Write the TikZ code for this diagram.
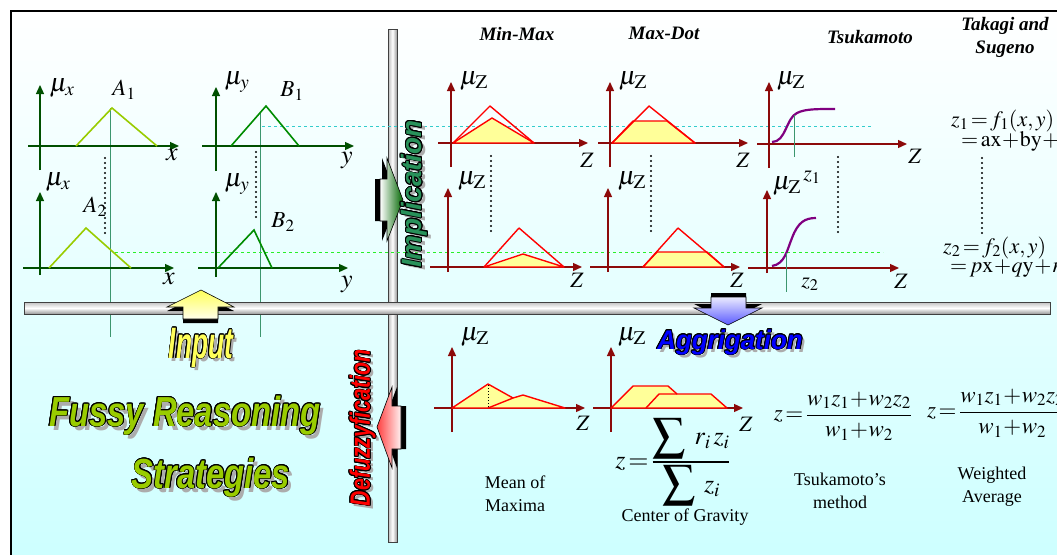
\documentclass[tikz,border=0pt]{standalone}
\usepackage{amsmath}
\usepackage{mathptmx}
\usepackage{fontspec}
\setmainfont{Liberation Serif}
\newfontfamily\artfont{Liberation Sans}
\usepackage{contour}
\contourlength{0.9pt}
\usetikzlibrary{arrows.meta}
\definecolor{ingreen}{RGB}{0,80,0}
\definecolor{agreen}{RGB}{153,204,0}
\definecolor{bgreen}{RGB}{0,140,0}
\definecolor{projgreen}{RGB}{60,150,110}
\definecolor{dashcyan}{RGB}{51,204,204}
\definecolor{dashgreen}{RGB}{40,240,40}
\definecolor{axred}{RGB}{140,10,10}
\definecolor{fuzzred}{RGB}{255,0,0}
\definecolor{fuzzfill}{RGB}{255,255,153}
\definecolor{sigpurple}{RGB}{128,0,128}
\definecolor{impgreen}{RGB}{40,145,90}
\definecolor{artgreen}{RGB}{153,204,0}
\definecolor{artyellow}{RGB}{255,255,90}
\definecolor{artblue}{RGB}{0,0,255}
\definecolor{artred}{RGB}{255,0,0}
\newcommand{\artword}[2]{\textcolor{#1}{\contour{black}{#2}}}
\newcommand{\bigsum}{\mathop{\vcenter{\hbox{\scalebox{1.8}{$\sum$}}}}}
\tikzstyle{inaxis} = [draw=ingreen, line width=1.3pt, -{Triangle[length=9pt,width=8pt]}]
\tikzstyle{zaxis} = [draw=axred, line width=1.3pt, -{Triangle[length=9pt,width=8pt]}]
\tikzstyle{aset} = [draw=agreen, line width=1.6pt]
\tikzstyle{bset} = [draw=bgreen, line width=1.6pt]
\tikzstyle{fuzzshape} = [draw=fuzzred, fill=fuzzfill, line width=1.4pt, line join=round]
\tikzstyle{fuzzline} = [draw=fuzzred, line width=1.4pt, line join=round]
\tikzstyle{sigmoid} = [draw=sigpurple, line width=2.2pt]
\tikzstyle{projline} = [draw=projgreen, line width=0.9pt]
\tikzstyle{dotcol} = [line width=2.2pt, line cap=round, dash pattern=on 0pt off 5pt]
\tikzstyle{bar} = [draw=black!75, line width=0.6pt]
\tikzstyle{lbl} = [inner sep=0pt, font=\fontsize{26}{28}\selectfont]
\tikzstyle{setlbl} = [inner sep=0pt, font=\fontsize{23}{25}\selectfont]
\tikzstyle{zlbl} = [inner sep=0pt, font=\fontsize{22}{24}\selectfont]
\tikzstyle{title} = [inner sep=0pt, font=\fontsize{19}{23}\selectfont\bfseries\itshape, align=center]
\tikzstyle{caption} = [inner sep=0pt, font=\fontsize{18}{23}\selectfont, align=center]
\tikzstyle{formula} = [inner sep=0pt, font=\fontsize{22}{24}\selectfont]
\tikzset{
  wordart/.style={inner sep=0pt, font=\artfont\bfseries\itshape\fontsize{#1}{#1}\selectfont},
  artshadow/.style={wordart=#1, text=gray!65}
}
\begin{document}
\begin{tikzpicture}[x=1pt, y=-1pt]
\useasboundingbox (0,0) rectangle (1057,554);
\clip (0,0) rectangle (1057,554);
% background and frame
\fill[white] (0,0) rectangle (1057,554);
\shade[top color=white, bottom color=cyan!20] (11,11) rectangle (1070,570);
\draw[line width=2pt] (11,570) -- (11,11) -- (1070,11);

% projections from the input sets
\draw[projline] (110,108) -- (110,337);
\draw[projline] (260,113) -- (260,337);

% the two bars
\shade[bar, left color=gray!55, right color=gray!80, middle color=white] (388,29) rectangle (397,542);
\shade[bar, top color=gray!50, bottom color=gray!80, middle color=white] (24,302) rectangle (1050,314);

% rule strengths
\draw[dashcyan, line width=0.8pt, dashed] (262,126) -- (873,126);
\draw[dashgreen, line width=0.8pt, dashed] (115,252) -- (883,252);

% input: A1, A2
\draw[inaxis] (40,170) -- (40,85);
\draw[inaxis] (28,146) -- (179,146);
\draw[aset] (76,146) -- (112,108) -- (157,146);
\node (mux1) [lbl] at (62,88) {$\mu_x$};
\node (a1) [setlbl] at (124,90) {$A_1$};
\node (x1) [lbl] at (172,155) {$x$};
\draw[inaxis] (40,275) -- (40,192);
\draw[inaxis] (23,268) -- (174,268);
\draw[aset] (49,268) -- (86,228) -- (131,268);
\node (mux2) [lbl] at (58,182) {$\mu_x$};
\node (a2) [setlbl] at (95,207) {$A_2$};
\node (x2) [lbl] at (169,279) {$x$};
\draw[dotcol] (105,158) -- (105,235);

% input: B1, B2
\draw[inaxis] (216,171) -- (216,87);
\draw[inaxis] (202,146) -- (354,146);
\draw[bset] (231,146) -- (266,106) -- (299,146);
\node (muy1) [lbl] at (237,82) {$\mu_y$};
\node (b1) [setlbl] at (292,91) {$B_1$};
\node (y1) [lbl] at (347,161) {$y$};
\draw[inaxis] (216,277) -- (216,192);
\draw[inaxis] (198,268) -- (348,268);
\draw[bset] (218,268) -- (254,230) -- (272,268);
\node (muy2) [lbl] at (237,184) {$\mu_y$};
\node (b2) [setlbl] at (283,222) {$B_2$};
\node (y2) [lbl] at (347,284) {$y$};
\draw[dotcol] (256,152) -- (256,220);

% titles
\node (minmax) [title] at (517,34) {Min-Max};
\node (maxdot) [title] at (664,33) {Max-Dot};
\node (tsuka) [title] at (870,37) {Tsukamoto};
\node (takagi) [title] at (1005,37) {Takagi and\\Sugeno};

% Min-Max
\draw[zaxis] (451,167) -- (451,82);
\draw[zaxis] (438,143) -- (588,143);
\draw[fuzzshape] (453,143) -- (492,118) -- (534,143) -- cycle;
\draw[fuzzline] (453,143) -- (490,106) -- (534,143);
\node (muz1) [lbl] at (474,81) {$\mu_{\mathrm{Z}}$};
\node (z1) [zlbl] at (587,160) {$Z$};
\draw[zaxis] (448,272) -- (448,188);
\draw[zaxis] (430,267) -- (582,267);
\draw[fuzzshape] (484,267) -- (523,254) -- (564,267) -- cycle;
\draw[fuzzline] (484,267) -- (519,228) -- (564,267);
\node (muz2) [lbl] at (472,181) {$\mu_{\mathrm{Z}}$};
\node (z2) [zlbl] at (577,280) {$Z$};
\draw[dotcol] (491,156) -- (491,232);

% Max-Dot
\draw[zaxis] (610,167) -- (610,82);
\draw[zaxis] (598,143) -- (748,143);
\draw[fuzzshape] (612,143) -- (633,121) -- (667,121) -- (695,143) -- cycle;
\draw[fuzzline] (612,143) -- (649,106) -- (695,143);
\node (muz3) [lbl] at (633,81) {$\mu_{\mathrm{Z}}$};
\node (z3) [zlbl] at (743,160) {$Z$};
\draw[zaxis] (608,272) -- (608,188);
\draw[zaxis] (590,267) -- (740,267);
\draw[fuzzshape] (643,267) -- (657,252) -- (707,252) -- (724,267) -- cycle;
\draw[fuzzline] (643,267) -- (678,228) -- (724,267);
\node (muz4) [lbl] at (632,181) {$\mu_{\mathrm{Z}}$};
\node (z4) [zlbl] at (737,280) {$Z$};
\draw[dotcol] (651,156) -- (651,232);

% Tsukamoto
\draw[zaxis] (769,168) -- (769,82);
\draw[zaxis] (757,144) -- (907,144);
\draw[sigmoid] (772,142) .. controls (786,142) and (786,118) .. (797,113) .. controls (805,109) and (815,109) .. (835,109);
\draw[projline] (794,115) -- (794,157);
\node (muz5) [lbl] at (791,81) {$\mu_{\mathrm{Z}}$};
\node (z5) [zlbl] at (915,156) {$Z$};
\node (zone) [zlbl] at (812,177) {$z_1$};
\draw[zaxis] (767,273) -- (767,190);
\draw[zaxis] (748,268) -- (899,268);
\draw[sigmoid] (772,266) .. controls (785,264) and (787,250) .. (792,238) .. controls (798,222) and (805,218) .. (816,218);
\draw[projline] (786,253) -- (786,292);
\node (muz6) [lbl] at (787,186) {$\mu_{\mathrm{Z}}$};
\node (z6) [zlbl] at (901,281) {$Z$};
\node (ztwo) [zlbl] at (810,284) {$z_2$};
\draw[dotcol] (838,157) -- (838,233);

% Takagi and Sugeno
\node (f1) [formula, anchor=west] at (951,121) {$z_1\!=\!f_1(x,y)$};
\node (f1b) [formula, anchor=west] at (961,141) {$=\!\mathrm{ax}\!+\!\mathrm{by}\!+\!\mathrm{c}$};
\draw[dotcol] (982,158) -- (982,235);
\node (f2) [formula, anchor=west] at (943,248) {$z_2\!=\!f_2(x,y)$};
\node (f2b) [formula, anchor=west] at (950,268) {$=\!p\mathrm{x}\!+\!q\mathrm{y}\!+\!r$};

% Mean of Maxima
\draw[zaxis] (452,432) -- (452,347);
\draw[zaxis] (434,408) -- (585,408);
\draw[fuzzshape] (452,408) -- (488,384) -- (513,398) -- (523,395) -- (565,408) -- cycle;
\draw[fuzzline] (488,408) -- (513,398);
\draw[line width=0.9pt, dash pattern=on 1pt off 2pt] (488,385) -- (488,408);
\node (muz7) [lbl] at (475,337) {$\mu_{\mathrm{Z}}$};
\node (z7) [zlbl] at (583,423) {$Z$};
\node (mom) [caption] at (515,494) {Mean of\\Maxima};

% Center of Gravity
\draw[zaxis] (611,432) -- (611,347);
\draw[zaxis] (593,408) -- (743,408);
\draw[fuzzshape] (611,408) -- (633,386) -- (668,386) -- (677,394) -- (711,394) -- (727,408) -- cycle;
\draw[fuzzline] (646,408) -- (659,394) -- (677,394);
\node (muz8) [lbl] at (632,337) {$\mu_{\mathrm{Z}}$};
\node (z8) [zlbl] at (746,424) {$Z$};
\node (cog) [formula, font=\fontsize{26}{28}\selectfont] at (673,462) {$z\!=\!\dfrac{\bigsum\;r_i\,z_i}{\bigsum\;z_i}$};
\node (cogtxt) [caption] at (685,517) {Center of Gravity};

% Tsukamoto's method and weighted average
\node (tsf) [formula, font=\fontsize{23}{26}\selectfont] at (843,416) {$z\!=\!\dfrac{w_1z_1\!+\!w_2z_2}{w_1\!+\!w_2}$};
\node (tstxt) [caption] at (840,491) {Tsukamoto's\\method};
\node (waf) [formula, font=\fontsize{23}{26}\selectfont, anchor=west] at (927,413) {$z\!=\!\dfrac{w_1z_1\!+\!w_2z_2}{w_1\!+\!w_2}$};
\node (watxt) [caption] at (992,487) {Weighted\\Average};

% block arrows
\fill[black] (375,179) -- (382,179) -- (382,158) -- (398,200) -- (382,241) -- (382,221) -- (375,221) -- cycle;
\shade[draw=black, line width=0.6pt, left color=white, right color=green!40!black] (380,179) -- (387,179) -- (387,158) -- (403,200) -- (387,241) -- (387,221) -- (380,221) -- cycle;
\fill[black] (382,427) -- (397,387) -- (397,406) -- (406,406) -- (406,449) -- (397,449) -- (397,468) -- cycle;
\shade[draw=black, line width=0.6pt, left color=red!75, right color=red!5] (377,427) -- (392,387) -- (392,406) -- (401,406) -- (401,449) -- (392,449) -- (392,468) -- cycle;
\fill[black] (201,294) -- (234,311) -- (218,311) -- (218,323) -- (183,323) -- (183,311) -- (167,311) -- cycle;
\shade[draw=black, line width=0.6pt, top color=yellow!65, bottom color=yellow!8] (201,290) -- (234,307) -- (218,307) -- (218,319) -- (183,319) -- (183,307) -- (167,307) -- cycle;
\fill[black] (728,321) -- (762,304) -- (746,304) -- (746,293) -- (711,293) -- (711,304) -- (694,304) -- cycle;
\shade[draw=black, line width=0.6pt, top color=blue!8, bottom color=blue!65] (728,325) -- (762,308) -- (746,308) -- (746,297) -- (711,297) -- (711,308) -- (694,308) -- cycle;

% word art labels
\node (impshadow) [artshadow=28, rotate=90] at (418,197) {Implication};
\node (implication) [wordart=28, rotate=90] at (415,194) {\artword{impgreen}{Implication}};
\node (defshadow) [artshadow=28, rotate=90] at (366,431) {\scalebox{0.76}[1]{Defuzzyfication}};
\node (defuzz) [wordart=28, rotate=90] at (363,428) {\scalebox{0.76}[1]{\artword{artred}{Defuzzyfication}}};
\node (inshadow) [artshadow=44, anchor=base] at (204,361) {\scalebox{0.6}[1]{Input}};
\node (input) [wordart=44, anchor=base] at (201,358) {\scalebox{0.6}[1]{\artword{artyellow}{Input}}};
\node (aggshadow) [artshadow=27, anchor=base] at (733,352) {\scalebox{0.96}[1]{Aggrigation}};
\node (aggr) [wordart=27, anchor=base] at (730,349) {\scalebox{0.96}[1]{\artword{artblue}{Aggrigation}}};
\node (fussshadow) [artshadow=42, anchor=base] at (189,430) {\scalebox{0.78}[1]{Fussy Reasoning}};
\node (fussy) [wordart=42, anchor=base] at (185,426) {\scalebox{0.78}[1]{\artword{artgreen}{Fussy Reasoning}}};
\node (stratshadow) [artshadow=42, anchor=base] at (215,492) {\scalebox{0.78}[1]{Strategies}};
\node (strat) [wordart=42, anchor=base] at (211,488) {\scalebox{0.78}[1]{\artword{artgreen}{Strategies}}};
\end{tikzpicture}
\end{document}
